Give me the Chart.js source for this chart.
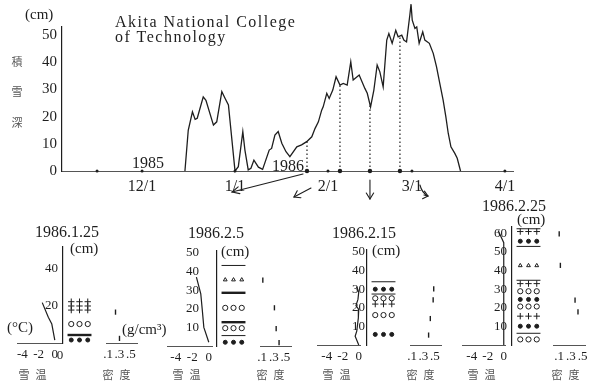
<!DOCTYPE html>
<html>
<head>
<meta charset="utf-8">
<script src="https://cdn.jsdelivr.net/npm/chart.js@4/dist/chart.umd.min.js"></script>
<style>
  html, body { margin: 0; padding: 0; background: #fff; }
  #fig { position: relative; width: 595px; height: 382px; overflow: hidden; background: #fff; }
  #fig canvas { position: absolute; }
  .t { position: absolute; white-space: nowrap; line-height: 1; color: #1e1e1e;
       font-family: "Liberation Serif", "DejaVu Serif", serif; }
  .jp { font-family: "Noto Sans CJK JP", sans-serif; color: #555; }
</style>
</head>
<body>
<div id="fig"></div>
<script>
// Snow depth at Akita National College of Technology, winter 1985-86.
// Days are counted from 1 December 1985 (negative values fall in November).
const depthDays = [14.3, 15.4, 16.8, 17.7, 18.4, 20.4, 21.3, 23.8, 24.9, 26.6, 27.7, 28.8,
  31, 32.1, 33.6, 34.3, 35.4, 36.3, 37.3, 38.8, 40.2, 42.4, 43.2, 44.3, 45.4, 46.6, 48, 49.3,
  51.6, 53.2, 54.9, 56.6, 57.7, 58.8, 59.9, 60.4, 61.6, 62.4, 63.6, 64.7, 66, 67.1, 68.4, 69.6,
  70.4, 72.4, 74.3, 75.1, 76.2, 77.3, 78.4, 79.3, 80.4, 81.6, 82.3, 83.4, 84.6, 85.4, 86.6, 87.3,
  88.2, 89.3, 89.7, 90.1, 91, 91.6, 92.4, 93.6, 94.3, 95.8, 97.1, 98.2, 99.3, 100.4, 101.3, 102.1,
  103, 104.3, 105.1, 106.2];
const depthCm = [0, 15, 21.8, 19, 19.4, 27.3, 26, 16.9, 18.1, 29.2, 26.7, 24.3,
  0, 1.6, 14.5, 7.7, 0.4, 1, 4, 1.4, 0.6, 7.7, 8.3, 13.2, 14.5, 10.2, 7.1, 5.3,
  8.9, 9.6, 10.8, 12.6, 15.7, 18.1, 22.4, 23.6, 28.6, 26.7, 29.8, 34.7, 31.6, 32.2, 31.6, 40.2,
  33.5, 35.3, 30.4, 28.6, 23.6, 29.8, 39, 36.5, 31, 48.2, 50.6, 47, 51.8, 49.4, 50, 48.2,
  47.5, 57.4, 61.4, 55.5, 52.5, 53, 47, 51.2, 48.2, 47, 43.3, 38.3, 32.2, 26.1, 20, 13.9,
  8.9, 6.5, 4.7, 0];

const depthTicks = [0, 10, 20, 30, 40, 50];
const monthDays = [0, 31, 62, 90, 121];
const monthLabels = ['12/1', '1/1', '2/1', '3/1', '4/1'];
const tickDotDays = [-15, 0, 31, 62, 90, 121];

// Dates of the pit observations
const profileDays = [55, 66, 76, 86];
const profileLabels = ['1986.1.25', '1986.2.5', '1986.2.15', '1986.2.25'];

// Snow temperature profiles: [height (cm), temperature (°C)]
const temp0125 = [[21.7, -1.55], [13.8, -0.8], [10.2, -0.37], [1.6, 0]];
const temp0205 = [[37, -1.5], [28, -0.97], [19, -0.78], [10, -0.6], [2, 0]];
const temp0215 = [[31.3, -0.25], [28.4, 0], [24.5, -0.1], [21.2, -0.35], [19.1, 0],
                  [14.6, -0.05], [7.4, -0.25], [4.7, -0.45], [0, 0]];
const temp0225 = [[61.5, -0.7], [55, 0], [0, 0]];

// Density profiles: [height (cm), density (g/cm3)]
const dens0125 = [[16.8, 0.23], [2.5, 0.30]];
const dens0205 = [[35.9, 0.11], [20.8, 0.31], [9.5, 0.34], [1.8, 0.39]];
const dens0215 = [[30.5, 0.48], [24.6, 0.47], [14.4, 0.42], [5.4, 0.39]];
const dens0225 = [[60, 0.10], [43, 0.12], [24.2, 0.37], [17.9, 0.42]];

// Snow stratigraphy: [height (cm), layer type]
const strat0125 = [[22.2, 'newSnow'], [19.9, 'newSnow'], [17.7, 'newSnow'], [10.2, 'granular'],
                   [4.3, 'iceLayer'], [1.6, 'compacted']];
const strat0205 = [[43.3, 'boundary'], [35.6, 'depthHoar'], [28.6, 'iceLayer'], [20.5, 'granular'],
                   [12.8, 'iceLayer'], [9.6, 'granular'], [5.6, 'boundary'], [2, 'compacted']];
const strat0215 = [[34, 'boundary'], [30, 'compacted'], [27.4, 'boundary'], [25.1, 'granular'],
                   [22, 'newSnow'], [16.1, 'granular'], [5.7, 'compacted']];
const strat0225 = [[62.5, 'boundary'], [61, 'newSnow'], [55.8, 'compacted'], [53, 'boundary'],
                   [42.7, 'depthHoar'], [34.8, 'boundary'], [33, 'newSnow'], [28.9, 'granular'],
                   [24.5, 'compacted'], [20.7, 'granular'], [15.5, 'newSnow'], [10.1, 'compacted'],
                   [6.3, 'boundary'], [3, 'granular']];

const heightTicks0125 = [20, 40];
const heightTicks0205 = [10, 20, 30, 40, 50];
const heightTicks0215 = [10, 20, 30, 40, 50];
const heightTicks0225 = [10, 20, 30, 40, 50, 60];
const tempTicks = [-4, -2, 0];
const densTicks = [0.1, 0.3, 0.5];
const densTickLabels = ['.1', '.3', '.5'];

// ---------------------------------------------------------------------------
const SERIF = '"Liberation Serif", "DejaVu Serif", serif';
const INK = '#1e1e1e';
Chart.defaults.font.family = SERIF;
Chart.defaults.color = INK;

const fig = document.getElementById('fig');
function addCanvas(x, y, w, h) {
  const c = document.createElement('canvas');
  c.width = w; c.height = h;
  Object.assign(c.style, { left: x + 'px', top: y + 'px', width: w + 'px', height: h + 'px' });
  fig.appendChild(c);
  return c;
}
function text(str, x, baseline, size, align, cls) {
  const s = document.createElement('span');
  s.className = 't' + (cls ? ' ' + cls : '');
  s.textContent = str;
  s.style.fontSize = size + 'px';
  s.style.top = (baseline - 0.838 * size) + 'px';
  s.style.left = x + 'px';
  if (align === 'center') s.style.transform = 'translateX(-50%)';
  fig.appendChild(s);
  return s;
}
function jp(ch, cx, cy, size) {
  const s = document.createElement('span');
  s.className = 't jp';
  s.textContent = ch;
  s.style.fontSize = size + 'px';
  s.style.left = cx + 'px';
  s.style.top = (cy - 0.55 * size) + 'px';
  s.style.transform = 'translateX(-50%)';
  fig.appendChild(s);
}
const noUi = () => ({ legend: { display: false }, tooltip: { enabled: false } });

// Linear interpolation along the depth record
function depthAt(day) {
  for (let i = 1; i < depthDays.length; i++) {
    if (day <= depthDays[i]) {
      const f = (day - depthDays[i - 1]) / (depthDays[i] - depthDays[i - 1]);
      return depthCm[i - 1] + f * (depthCm[i] - depthCm[i - 1]);
    }
  }
  return 0;
}

function arrow(ctx, x1, y1, x2, y2, len, spread) {
  ctx.beginPath(); ctx.moveTo(x1, y1); ctx.lineTo(x2, y2); ctx.stroke();
  const a = Math.atan2(y2 - y1, x2 - x1);
  ctx.beginPath();
  ctx.moveTo(x2 - len * Math.cos(a - spread), y2 - len * Math.sin(a - spread));
  ctx.lineTo(x2, y2);
  ctx.lineTo(x2 - len * Math.cos(a + spread), y2 - len * Math.sin(a + spread));
  ctx.stroke();
}

// Arrows leading from the observation dates down to the profiles
const profileArrows = {
  id: 'profileArrows',
  afterDatasetsDraw(chart) {
    const { ctx, scales: { x } } = chart;
    const px = d => x.getPixelForValue(d);
    ctx.save();
    ctx.strokeStyle = INK; ctx.lineWidth = 1.1; ctx.lineCap = 'round';
    arrow(ctx, px(profileDays[0]) - 4, 174, px(30), 192, 8, 0.45);
    arrow(ctx, px(profileDays[1]) - 29, 188, px(profileDays[1]) - 46, 197, 7, 0.6);
    arrow(ctx, px(profileDays[2]), 180, px(profileDays[2]), 199, 7, 0.55);
    const x4 = px(profileDays[3]);
    ctx.beginPath(); ctx.moveTo(x4 + 20, 185); ctx.quadraticCurveTo(x4 + 22, 193, x4 + 28, 196); ctx.stroke();
    arrow(ctx, x4 + 24, 195, x4 + 28, 196, 6, 0.7);
    ctx.restore();
  }
};

// ---- snow depth record -----------------------------------------------------
new Chart(addCanvas(0, 0, 595, 200), {
  type: 'scatter',
  data: {
    datasets: [
      { data: depthDays.map((d, i) => ({ x: d, y: depthCm[i] })), showLine: true,
        borderColor: INK, borderWidth: 1.3, pointRadius: 0, clip: false },
      ...profileDays.map(d => ({
        data: [{ x: d, y: 0 }, { x: d, y: depthAt(d) }], showLine: true,
        borderColor: INK, borderWidth: 1.2, borderDash: [1.5, 2.5],
        pointRadius: [2.2, 0], pointBackgroundColor: INK, pointBorderWidth: 0, clip: false })),
      { data: tickDotDays.map(d => ({ x: d, y: 0 })), pointRadius: 1.5,
        pointBackgroundColor: INK, pointBorderWidth: 0, clip: false }
    ]
  },
  options: {
    responsive: false, animation: false, devicePixelRatio: 1,
    layout: { padding: { left: 0, right: 82, top: 27, bottom: 0 } },
    plugins: noUi(),
    scales: {
      x: {
        type: 'linear', min: -26.7, max: 123.7,
        grid: { display: false, drawTicks: false },
        border: { color: '#555', width: 1 },
        afterBuildTicks: s => { s.ticks = monthDays.map(v => ({ value: v })); },
        afterFit: s => { s.height = 29; },
        ticks: { padding: 6, color: INK, font: { family: SERIF, size: 16 }, maxRotation: 0, autoSkip: false,
                 callback: v => { const i = monthDays.indexOf(v); return i < 0 ? '' : monthLabels[i]; } }
      },
      y: {
        min: 0, max: 53,
        grid: { display: false, drawTicks: false },
        border: { color: INK, width: 1.2 },
        afterBuildTicks: s => { s.ticks = depthTicks.map(v => ({ value: v })); },
        afterFit: s => { s.width = 62; },
        ticks: { padding: 5, color: INK, font: { family: SERIF, size: 15 } }
      }
    }
  },
  plugins: [profileArrows]
});

// ---- pit profiles ----------------------------------------------------------
const PX_PER_CM = 1.86, PX_PER_DEG = 9, PX_PER_DENS = 81;
const AXIS_H = 18, LABEL_W = 40, TEMP_W = 50, STRAT_W = 38, DENS_W = 44;
const EXT = 34;   // spare room so the height-axis labels never shrink the plot area
const STRAT_COLS = [1, 2, 3];
const grainStyle = {
  newSnow:   { pointStyle: 'cross',    radius: 3.2, fill: false },
  compacted: { pointStyle: 'circle',   radius: 2.0, fill: true },
  granular:  { pointStyle: 'circle',   radius: 2.6, fill: false },
  depthHoar: { pointStyle: 'triangle', radius: 2.2, fill: false }
};
const layerLineWidth = { iceLayer: 2.4, boundary: 1 };

function stratDatasets(strat) {
  const ds = [];
  for (const [type, st] of Object.entries(grainStyle)) {
    const pts = [];
    strat.filter(r => r[1] === type).forEach(([h]) => STRAT_COLS.forEach(c => pts.push({ x: c, y: h })));
    if (pts.length) ds.push({
      data: pts, pointStyle: st.pointStyle, pointRadius: st.radius, pointBorderWidth: 1,
      pointBorderColor: INK, pointBackgroundColor: st.fill ? INK : 'rgba(0,0,0,0)', clip: false });
  }
  strat.filter(r => layerLineWidth[r[1]]).forEach(([h, type]) => ds.push({
    data: [{ x: 0.55, y: h }, { x: 3.45, y: h }], showLine: true,
    borderColor: INK, borderWidth: layerLineWidth[type], pointRadius: 0, clip: false }));
  return ds;
}

const panels = [
  { axisX: 63,  base: 343, yMax: 52,   yTicks: heightTicks0125, labelPad: 5,  tempZero: 9, dens01: 38,
    temp: temp0125, strat: strat0125, dens: dens0125 },
  { axisX: 217, base: 346, yMax: 51.5, yTicks: heightTicks0205, labelPad: 18, tempZero: 5, dens01: 39,
    temp: temp0205, strat: strat0205, dens: dens0205 },
  { axisX: 367, base: 345, yMax: 51.5, yTicks: heightTicks0215, labelPad: 2,  tempZero: 3, dens01: 38,
    temp: temp0215, strat: strat0215, dens: dens0215 },
  { axisX: 512, base: 345, yMax: 63.5, yTicks: heightTicks0225, labelPad: 5,  tempZero: 3, dens01: 44,
    temp: temp0225, strat: strat0225, dens: dens0225 }
];

function drawPanel(p) {
  const A = p.axisX;
  const areaTop = p.base - p.yMax * PX_PER_CM;
  const cTop = Math.floor(areaTop) - 4;
  const padTop = areaTop - cTop;
  const cH = Math.round(p.base - cTop) + AXIS_H;
  const yHidden = { display: false, min: 0, max: p.yMax };
  const tickFont = { family: SERIF, size: 13 };

  // stratigraphy column carrying the height axis
  new Chart(addCanvas(A - LABEL_W, cTop - EXT, LABEL_W + STRAT_W, cH + 2 * EXT), {
    type: 'scatter',
    data: { datasets: stratDatasets(p.strat) },
    options: {
      responsive: false, animation: false, devicePixelRatio: 1,
      layout: { padding: { left: 0, right: 0, top: padTop + EXT, bottom: AXIS_H + EXT } },
      plugins: noUi(),
      scales: {
        x: { display: false, min: 0, max: 4 },
        y: {
          position: 'left', min: 0, max: p.yMax,
          grid: { display: false, drawTicks: false },
          border: { color: INK, width: 1.2 },
          afterBuildTicks: s => { s.ticks = p.yTicks.map(v => ({ value: v })); },
          afterFit: s => { s.width = LABEL_W; },
          ticks: { padding: p.labelPad, color: INK, font: tickFont }
        }
      }
    }
  });

  // snow temperature
  new Chart(addCanvas(A - TEMP_W, cTop, TEMP_W - 1, cH), {
    type: 'scatter',
    data: { datasets: [{ data: p.temp.map(([h, t]) => ({ x: t, y: h })), showLine: true,
                         borderColor: INK, borderWidth: 1.2, pointRadius: 0, clip: false }] },
    options: {
      responsive: false, animation: false, devicePixelRatio: 1,
      layout: { padding: { left: 0, right: 0, top: padTop, bottom: 0 } },
      plugins: noUi(),
      scales: {
        x: {
          min: -(TEMP_W - p.tempZero) / PX_PER_DEG, max: (p.tempZero - 1) / PX_PER_DEG,
          grid: { display: false, drawTicks: false },
          border: { color: '#555', width: 1 },
          afterBuildTicks: s => { s.ticks = tempTicks.map(v => ({ value: v })); },
          afterFit: s => { s.height = AXIS_H; },
          ticks: { padding: 4, color: INK, font: tickFont, maxRotation: 0, autoSkip: false,
                   callback: v => String(v) }
        },
        y: yHidden
      }
    }
  });

  // density
  const dMin = 0.1 - (p.dens01 - 36) / PX_PER_DENS;
  new Chart(addCanvas(A + 36, cTop, DENS_W, cH), {
    type: 'scatter',
    data: { datasets: [{ data: p.dens.map(([h, d]) => ({ x: d, y: h })),
                         pointStyle: 'line', pointRotation: 90, pointRadius: 2.6,
                         pointBorderWidth: 1.4, pointBorderColor: INK, clip: false }] },
    options: {
      responsive: false, animation: false, devicePixelRatio: 1,
      layout: { padding: { left: 0, right: 0, top: padTop, bottom: 0 } },
      plugins: noUi(),
      scales: {
        x: {
          min: dMin, max: dMin + DENS_W / PX_PER_DENS,
          grid: { display: false, drawTicks: false },
          border: { color: '#555', width: 1 },
          afterBuildTicks: s => { s.ticks = densTicks.map(v => ({ value: v })); },
          afterFit: s => { s.height = AXIS_H; },
          ticks: { padding: 4, color: INK, font: tickFont, maxRotation: 0, autoSkip: false,
                   callback: v => { const i = densTicks.findIndex(t => Math.abs(t - v) < 1e-6); return i < 0 ? '' : densTickLabels[i]; } }
        },
        y: yHidden
      }
    }
  });

  jp('雪', A - 39, 375, 11); jp('温', A - 22, 375, 11);
  jp('密', A + 45, 375, 11); jp('度', A + 62, 375, 11);
}
panels.forEach(drawPanel);

// ---- titles and unit labels -----------------------------------------------
text('(cm)', 25, 20, 15);
jp('積', 17, 62, 11); jp('雪', 17, 92, 11); jp('深', 17, 123, 11);
const t1 = text('Akita National College', 115, 27, 16); t1.style.letterSpacing = '1.5px';
const t2 = text('of Technology', 115, 42, 16); t2.style.letterSpacing = '1.5px';
text('1985', 148, 168, 16, 'center');
text('1986', 288, 171.5, 16, 'center');

text(profileLabels[0], 67, 237, 16, 'center');
text(profileLabels[1], 216, 238, 16, 'center');
text(profileLabels[2], 364, 238, 16, 'center');
text(profileLabels[3], 514, 211, 16, 'center');
text('(cm)', 70, 254, 15);
text('(cm)', 221, 257, 15);
text('(cm)', 372, 256, 15);
text('(cm)', 517, 225, 15);
text('(°C)', 7, 333, 15);
text('(g/cm³)', 122, 335, 15);
text('0', 60, 359, 13, 'center');
</script>
</body>
</html>
